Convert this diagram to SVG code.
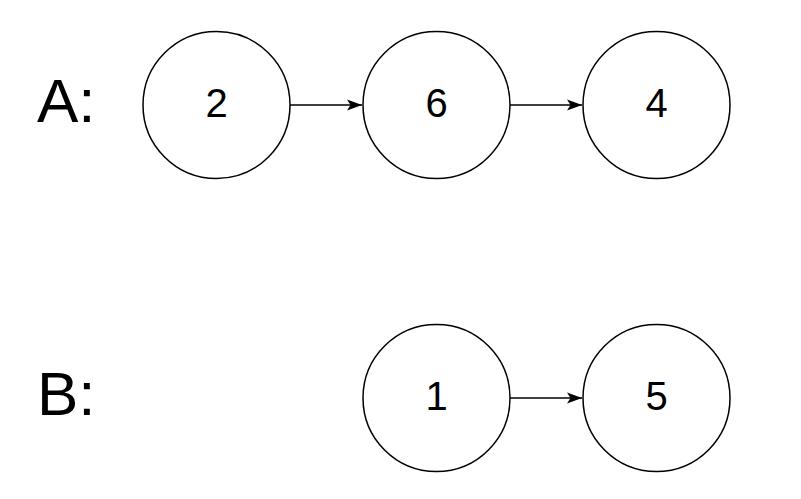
<svg xmlns="http://www.w3.org/2000/svg" width="801" height="499" viewBox="0 0 801 499">
<style>
.node circle{fill:#fff;stroke:#000;stroke-width:1.5}
.num{font-family:"Liberation Sans",Arial,sans-serif;font-size:40px;text-anchor:middle;fill:#000}
.lbl{font-family:"Liberation Sans",Arial,sans-serif;font-size:62px;fill:#000}
.edge{stroke:#000;stroke-width:1.5;fill:none;marker-end:url(#arr)}
</style>
<defs>
<marker id="arr" markerWidth="18" markerHeight="14" refX="16" refY="6.5" orient="auto" markerUnits="userSpaceOnUse">
<path d="M1,1 L16,6.5 L1,12 L4.5,6.5 Z" fill="#000"/>
</marker>
</defs>
<rect width="801" height="499" fill="#fff"/>
<text class="lbl" x="37" y="122">A:</text>
<text class="lbl" x="37" y="415">B:</text>
<g id="connectors">
<line class="edge" x1="290" y1="105" x2="362" y2="105"/>
<line class="edge" x1="510" y1="105" x2="582" y2="105"/>
<line class="edge" x1="510" y1="398" x2="582" y2="398"/>
</g>
<g id="nodeA2" class="node"><circle cx="216.5" cy="105" r="73.5"/><text class="num" x="216.5" y="116.5">2</text></g>
<g id="nodeA6" class="node"><circle cx="436.5" cy="105" r="73.5"/><text class="num" x="436.5" y="116.5">6</text></g>
<g id="nodeA4" class="node"><circle cx="656.5" cy="105" r="73.5"/><text class="num" x="656.5" y="116.5">4</text></g>
<g id="nodeB1" class="node"><circle cx="436.5" cy="398" r="73.5"/><text class="num" x="436.5" y="409.5">1</text></g>
<g id="nodeB5" class="node"><circle cx="656.5" cy="398" r="73.5"/><text class="num" x="656.5" y="409.5">5</text></g>
</svg>
